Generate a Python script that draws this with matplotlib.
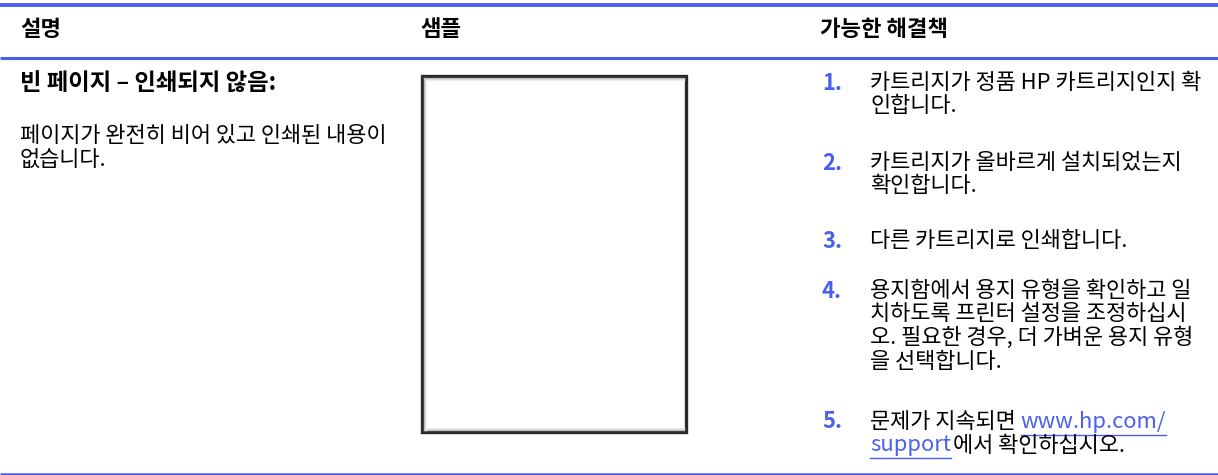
import matplotlib
matplotlib.use('Agg')
import matplotlib.pyplot as plt
from matplotlib.patches import Rectangle

plt.rcParams['font.family'] = ['Noto Sans CJK KR', 'DejaVu Sans']

# 표 내용
headers = ['설명', '샘플', '가능한 해결책']
header_x = [20, 420, 820]
issue_title = '빈 페이지 – 인쇄되지 않음:'
issue_desc = ['페이지가 완전히 비어 있고 인쇄된 내용이', '없습니다.']
step_nums = ['1.', '2.', '3.', '4.']
step_lines = [
    ['카트리지가 정품 HP 카트리지인지 확', '인합니다.'],
    ['카트리지가 올바르게 설치되었는지', '확인합니다.'],
    ['다른 카트리지로 인쇄합니다.'],
    ['용지함에서 용지 유형을 확인하고 일', '치하도록 프린터 설정을 조정하십시',
     '오. 필요한 경우, 더 가벼운 용지 유형', '을 선택합니다.'],
]
step_y = [83, 163, 241, 291]
last_num = '5.'
last_pre = '문제가 지속되면 '
last_link = ['www.hp.com/', 'support']
last_post = '에서 확인하십시오.'

BLUE = '#4a5ff0'
W, H = 1218, 475
FS = 15.8
FSB = 16
LH = 23.5

fig = plt.figure(figsize=(W / 100, H / 100), dpi=100)
ax = fig.add_axes([0, 0, 1, 1])
ax.set_xlim(0, W)
ax.set_ylim(H, 0)
ax.axis('off')

# 가로 선
ax.plot([0, W], [5, 5], color=BLUE, lw=2.8, solid_capstyle='butt')
ax.plot([0, W], [57.5, 57.5], color=BLUE, lw=2.2, solid_capstyle='butt')
ax.plot([0, W], [473.5, 473.5], color=BLUE, lw=1.8, solid_capstyle='butt')

for x, h in zip(header_x, headers):
    ax.text(x, 30, h, fontsize=FSB, fontweight='bold', va='center', ha='left')

ax.text(20, 83, issue_title, fontsize=16.8, fontweight='bold', va='center')
for i, line in enumerate(issue_desc):
    ax.text(20, 136 + i * LH, line, fontsize=FS, va='center')

# 샘플 빈 페이지
bx0, by0, bx1, by1 = 422, 76, 686, 432
ax.add_patch(Rectangle((bx0, by0), bx1 - bx0, by1 - by0, facecolor='white',
                       edgecolor='#2a2a2a', lw=2.4))
for k, c in enumerate(['#b0b0b0', '#d8d8d8', '#eeeeee']):
    off = 2 + k
    ax.plot([bx0 + off, bx0 + off], [by0 + off, by1 - 2], color=c, lw=1)
    ax.plot([bx0 + off, bx1 - 2], [by0 + off, by0 + off], color=c, lw=1)
    ax.plot([bx0 + off, bx1 - 2], [by1 - off, by1 - off], color=c, lw=1)

# 해결책 목록
for num, lines, y0 in zip(step_nums, step_lines, step_y):
    ax.text(822, y0, num, fontsize=FS, fontweight='bold', color=BLUE, va='center')
    for j, line in enumerate(lines):
        ax.text(870, y0 + j * LH, line, fontsize=FS, va='center')

fig.canvas.draw()
r = fig.canvas.get_renderer()
inv = ax.transData.inverted()


def text_width(t):
    bb = t.get_window_extent(renderer=r)
    (x0, _), (x1, _) = inv.transform([[bb.x0, bb.y0], [bb.x1, bb.y1]])
    return x1 - x0


y5 = 422
ax.text(822, y5, last_num, fontsize=FS, fontweight='bold', color=BLUE, va='center')
t = ax.text(870, y5, last_pre, fontsize=FS, va='center')
x = 870 + text_width(t)
t = ax.text(x, y5, last_link[0], fontsize=FS, color=BLUE, va='center')
w = text_width(t)
ax.plot([x, x + w], [y5 + 12.5, y5 + 12.5], color=BLUE, lw=1)
t = ax.text(870, y5 + LH, last_link[1], fontsize=FS, color=BLUE, va='center')
w = text_width(t)
ax.plot([870, 870 + w], [y5 + LH + 12.5, y5 + LH + 12.5], color=BLUE, lw=1)
ax.text(870 + w + 2, y5 + LH, last_post, fontsize=FS, va='center')

fig.savefig('out.png', dpi=100)
